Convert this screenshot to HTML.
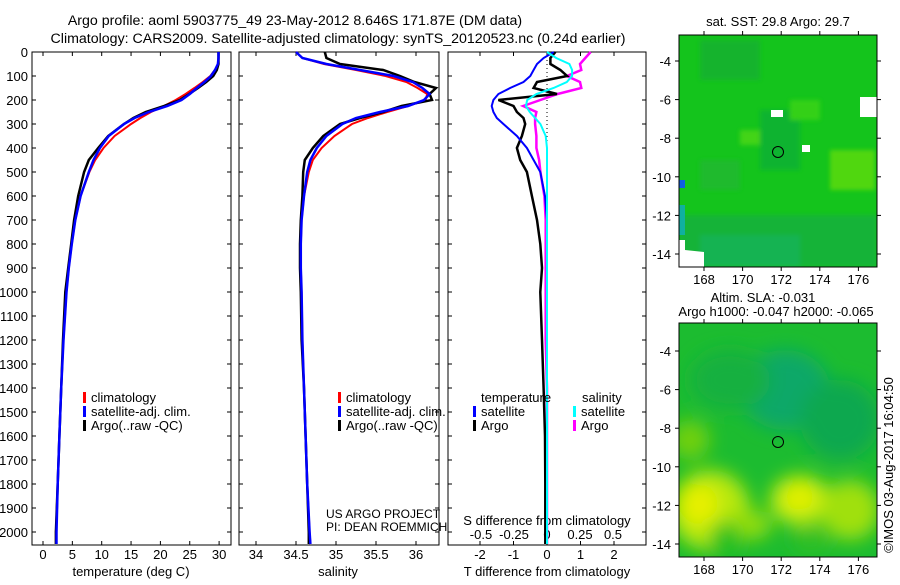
<!DOCTYPE html>
<html><head><meta charset="utf-8"><style>
body{margin:0;background:#fff;width:900px;height:580px;overflow:hidden}
svg text{font-family:"Liberation Sans",sans-serif;font-size:13px;fill:#000}
</style></head><body>
<svg id="c" width="900" height="580" xmlns="http://www.w3.org/2000/svg">
<defs>
<filter id="bl" x="-50%" y="-50%" width="200%" height="200%"><feGaussianBlur stdDeviation="9"/></filter>
<filter id="bl2"><feGaussianBlur stdDeviation="2"/></filter>
<clipPath id="cm1"><rect x="679" y="35" width="198" height="232"/></clipPath>
<clipPath id="cm2"><rect x="679" y="323" width="198" height="234"/></clipPath>
</defs>
<text x="295" y="25" text-anchor="middle" style="font-size:14.2px">Argo profile: aoml 5903775_49 23-May-2012 8.646S 171.87E (DM data)</text>
<text x="338" y="43" text-anchor="middle" style="font-size:14.2px">Climatology: CARS2009. Satellite-adjusted climatology: synTS_20120523.nc (0.24d earlier)</text>
<g id="maps">
<g clip-path="url(#cm1)">
<rect x="679" y="35" width="198" height="232" fill="#14c41c"/>
<g filter="url(#bl2)" opacity="0.8">
<rect x="700" y="40" width="60" height="40" fill="#18b030"/>
<rect x="760" y="110" width="40" height="60" fill="#10b034"/>
<rect x="830" y="150" width="45" height="40" fill="#60dc10"/>
<rect x="700" y="160" width="40" height="30" fill="#20b830"/>
<rect x="740" y="130" width="20" height="15" fill="#50d818"/>
<rect x="790" y="100" width="30" height="20" fill="#3cd414"/>
<rect x="679" y="215" width="198" height="52" fill="#18b040"/>
<rect x="700" y="235" width="100" height="32" fill="#14b060"/>
</g>
<rect x="679" y="205" width="6" height="30" fill="#10b0a0"/>
<rect x="679" y="180" width="6" height="8" fill="#1060e0"/>
<rect x="771" y="110" width="12" height="7" fill="#fff"/>
<rect x="802" y="145" width="8" height="7" fill="#fff"/>
<rect x="860" y="97" width="17" height="20" fill="#fff"/>
<polygon points="679,240 685,240 685,250 704,252 704,267 679,267" fill="#fff"/>
<circle cx="778" cy="152" r="5.5" fill="none" stroke="#000" stroke-width="1"/>
</g>
<g clip-path="url(#cm2)">
<rect x="679" y="323" width="198" height="234" fill="#1cbc30"/>
<g filter="url(#bl)">
<ellipse cx="785" cy="390" rx="45" ry="40" fill="#10a868"/>
<ellipse cx="840" cy="420" rx="40" ry="40" fill="#10a850"/>
<ellipse cx="730" cy="380" rx="40" ry="30" fill="#18b040"/>
<ellipse cx="710" cy="510" rx="40" ry="40" fill="#b8e810"/>
<ellipse cx="700" cy="505" rx="18" ry="20" fill="#e8f000"/>
<ellipse cx="800" cy="500" rx="30" ry="25" fill="#c8ec10"/>
<ellipse cx="800" cy="498" rx="14" ry="12" fill="#e4f000"/>
<ellipse cx="850" cy="510" rx="30" ry="30" fill="#a0e010"/>
<ellipse cx="750" cy="525" rx="22" ry="15" fill="#90dc10"/>
<ellipse cx="725" cy="540" rx="15" ry="18" fill="#20c020"/>
<ellipse cx="810" cy="540" rx="18" ry="12" fill="#30c020"/>
<ellipse cx="690" cy="440" rx="20" ry="20" fill="#70d010"/>
</g>
<circle cx="778" cy="442" r="5.5" fill="none" stroke="#000" stroke-width="1"/>
</g>
<rect x="679" y="35" width="198" height="232" fill="none" stroke="#000"/>
<rect x="679" y="323" width="198" height="234" fill="none" stroke="#000"/>
<text x="778" y="26" text-anchor="middle">sat. SST: 29.8 Argo: 29.7</text>
<text x="763" y="302" text-anchor="middle">Altim. SLA: -0.031</text>
<text x="776" y="316" text-anchor="middle">Argo h1000: -0.047 h2000: -0.065</text>
<text transform="translate(893,465) rotate(-90)" text-anchor="middle">©IMOS 03-Aug-2017 16:04:50</text>
</g>
<text x="326" y="518" style="font-size:12px">US ARGO PROJECT</text>
<text x="326" y="531" style="font-size:12px">PI: DEAN ROEMMICH</text>
</svg>
<script>
// depth levels (m) shared by profiles
const depths = [0,25,50,75,100,125,150,175,200,225,250,275,300,350,400,450,500,600,700,800,900,1000,1200,1400,1600,1800,2000,2050];
// temperature (deg C)
const tempClim = [29.9,29.9,29.8,29.3,28.5,27.2,25.8,24.3,22.6,20.6,18.4,16.6,15.0,12.2,10.3,8.9,7.9,6.4,5.5,4.9,4.4,4.0,3.5,3.1,2.8,2.5,2.2,2.2];
const tempSat  = [29.9,29.9,29.8,29.3,28.6,27.5,26.2,25.0,23.6,21.2,18.0,15.6,13.8,11.2,9.7,8.6,7.8,6.4,5.5,4.9,4.4,4.0,3.5,3.1,2.8,2.5,2.3,2.3];
const tempArgo = [29.9,29.9,29.9,29.6,29.0,27.8,26.4,24.9,23.3,20.6,17.5,15.4,13.8,11.1,9.4,7.8,7.0,6.0,5.3,4.8,4.3,3.8,3.4,3.1,2.8,2.5,2.2,2.2];
// salinity (psu)
const salClim = [34.50,34.58,34.85,35.25,35.62,35.88,36.02,36.14,36.12,35.90,35.64,35.40,35.20,34.98,34.82,34.71,34.66,34.60,34.57,34.56,34.56,34.57,34.58,34.60,34.62,34.64,34.67,34.68];
const salSat  = [34.50,34.58,34.88,35.30,35.72,35.96,36.08,36.17,36.10,35.90,35.55,35.25,35.08,34.88,34.76,34.68,34.64,34.60,34.57,34.56,34.56,34.57,34.58,34.60,34.62,34.64,34.67,34.68];
const salArgo = [34.86,34.88,35.05,35.59,35.80,35.98,36.25,36.17,36.20,35.82,35.59,35.30,35.05,34.84,34.71,34.61,34.59,34.58,34.56,34.55,34.55,34.56,34.57,34.60,34.62,34.64,34.66,34.66];
// T differences from climatology (deg C)
const dTSat  = [0.2,-0.1,-0.3,-0.4,-0.5,-0.7,-1.1,-1.45,-1.6,-1.65,-1.6,-1.5,-1.3,-0.9,-0.6,-0.4,-0.2,-0.06,0,0,0,0,0,0,0,0,0,0];
const dTArgo = [0.25,0.1,0.1,0.4,0.6,-0.3,-0.4,0.3,-1.45,-1.0,-0.9,-0.7,-0.65,-0.75,-0.9,-0.8,-0.6,-0.45,-0.3,-0.2,-0.15,-0.2,-0.15,-0.1,-0.06,-0.05,-0.05,-0.05];
// S differences from climatology (psu)
const dSSat  = [0,0.07,0.17,0.19,0.19,0.15,0.05,-0.08,-0.15,-0.16,-0.13,-0.09,-0.05,-0.01,0,0,0,0,0,0,0,0,0,0,0,0,0,0];
const dSArgo = [0.33,0.29,0.25,0.26,0.15,0.25,0.26,0.08,-0.05,-0.18,-0.08,-0.09,-0.09,-0.08,-0.08,-0.06,-0.05,-0.02,-0.01,-0.01,-0.01,-0.01,-0.01,0,0,0,0,0];
const depthTicks = [0,100,200,300,400,500,600,700,800,900,1000,1100,1200,1300,1400,1500,1600,1700,1800,1900,2000];
const tempTicks = [0,5,10,15,20,25,30];
const salTicks = [34,34.5,35,35.5,36];
const dTTicks = [-2,-1,0,1,2];
const dSTicks = [-0.5,-0.25,0,0.25,0.5];

const NS="http://www.w3.org/2000/svg", svg=document.getElementById('c');
function mk(tag,attrs,parent){const e=document.createElementNS(NS,tag);for(const k in attrs)e.setAttribute(k,attrs[k]);(parent||svg).appendChild(e);return e;}
const Y0=52, PX=0.24, BOT=545;
const yS = d => Y0 + d*PX;
const xT = t => 43 + t*5.87;
const xSal = s => 256 + (s-34)*80;
const xdT = t => 547 + t*33.5;
const xdS = s => 547 + s*132;
const panels=[[32,231],[239,439],[448,646]];
panels.forEach((p,i)=>{
  const r=mk('rect',{x:p[0],y:Y0,width:p[1]-p[0],height:BOT-Y0,fill:'none',stroke:'#000'});
  
  
  depthTicks.forEach(d=>{
    mk('line',{x1:p[0],x2:p[0]+4,y1:yS(d),y2:yS(d),stroke:'#000'});
    mk('line',{x1:p[1]-4,x2:p[1],y1:yS(d),y2:yS(d),stroke:'#000'});
  });
});
depthTicks.forEach(d=>{
  const t=mk('text',{x:28,y:yS(d)+5,'text-anchor':'end'});t.textContent=d;
  
  
});
function xAxis(ticks,fx,ty,name,bottomTicks){
  ticks.forEach(v=>{
    const x=fx(v);
    if(bottomTicks){mk('line',{x1:x,x2:x,y1:BOT-4,y2:BOT,stroke:'#000'});mk('line',{x1:x,x2:x,y1:Y0,y2:Y0+4,stroke:'#000'});}
    const t=mk('text',{x:x,y:ty,'text-anchor':'middle'});t.textContent=v;
    
    
  });
}
xAxis(tempTicks,xT,559,'temp-tick-label',true);
xAxis(salTicks,xSal,559,'salinity-tick-label',true);
xAxis(dTTicks,xdT,559,'tdiff-tick-label',true);
xAxis(dSTicks,xdS,539,'sdiff-tick-label',false);
[[131,'temperature (deg C)','temp-axis-title'],[338,'salinity','salinity-axis-title'],[547,'T difference from climatology','tdiff-axis-title']].forEach(a=>{
  const t=mk('text',{x:a[0],y:576,'text-anchor':'middle'});t.textContent=a[1];
  
  
});
const st=mk('text',{x:547,y:525,'text-anchor':'middle'});st.textContent='S difference from climatology';


mk('line',{x1:547,x2:547,y1:Y0,y2:BOT,stroke:'#000','stroke-dasharray':'1,3'});
function line(vals,fx,col,w,name){
  const pts=vals.map((v,i)=>fx(v).toFixed(1)+','+yS(depths[i]).toFixed(1)).join(' ');
  const p=mk('polyline',{points:pts,fill:'none',stroke:col,'stroke-width':w});
  
  
}
line(tempClim,xT,'#f00',2,'temp-climatology-line');
line(tempArgo,xT,'#000',2.5,'temp-argo-line');
line(tempSat,xT,'#00f',2.5,'temp-satellite-line');
line(salClim,xSal,'#f00',2,'salinity-climatology-line');
line(salArgo,xSal,'#000',2.5,'salinity-argo-line');
line(salSat,xSal,'#00f',2.5,'salinity-satellite-line');
line(dSArgo,xdS,'#f0f',2.5,'sdiff-argo-line');
line(dTArgo,xdT,'#000',2.5,'tdiff-argo-line');
line(dTSat,xdT,'#00f',2,'tdiff-satellite-line');
line(dSSat,xdS,'#0ff',2,'sdiff-satellite-line');
function legend(x,y,items,prefix){
  items.forEach((it,i)=>{
    const yy=y+i*14;
    const b=mk('rect',{x:x,y:yy-10,width:3,height:11,fill:it[0]});
    
    
    const t=mk('text',{x:x+8,y:yy});t.textContent=it[1];
    
    
  });
}
const lg=[['#f00','climatology'],['#00f','satellite-adj. clim.'],['#000','Argo(..raw -QC)']];
legend(83,402,lg,'temp');
legend(338,402,lg,'salinity');
const lt=mk('text',{x:481,y:402});lt.textContent='temperature';


const ls=mk('text',{x:582,y:402});ls.textContent='salinity';


legend(473,416,[['#00f','satellite'],['#000','Argo']],'tdiff');
legend(573,416,[['#0ff','satellite'],['#f0f','Argo']],'sdiff');
// map axes
const lonTicks=[168,170,172,174,176], latTicks=[-4,-6,-8,-10,-12,-14];
const xLon = l => 704 + (l-168)*19.3;
[[35,267,61],[323,557,351]].forEach((m,k)=>{
  lonTicks.forEach(l=>{
    mk('line',{x1:xLon(l),x2:xLon(l),y1:m[0]-4,y2:m[0],stroke:'#000'});
    mk('line',{x1:xLon(l),x2:xLon(l),y1:m[1],y2:m[1]+4,stroke:'#000'});
    const t=mk('text',{x:xLon(l),y:m[1]+17,'text-anchor':'middle'});t.textContent=l;
    
    
  });
  latTicks.forEach(la=>{
    const y=m[2]+(-4-la)*19.3;
    mk('line',{x1:675,x2:679,y1:y,y2:y,stroke:'#000'});
    mk('line',{x1:877,x2:881,y1:y,y2:y,stroke:'#000'});
    const t=mk('text',{x:671,y:y+5,'text-anchor':'end'});t.textContent=la;
    
    
  });
});
</script>
</body></html>
